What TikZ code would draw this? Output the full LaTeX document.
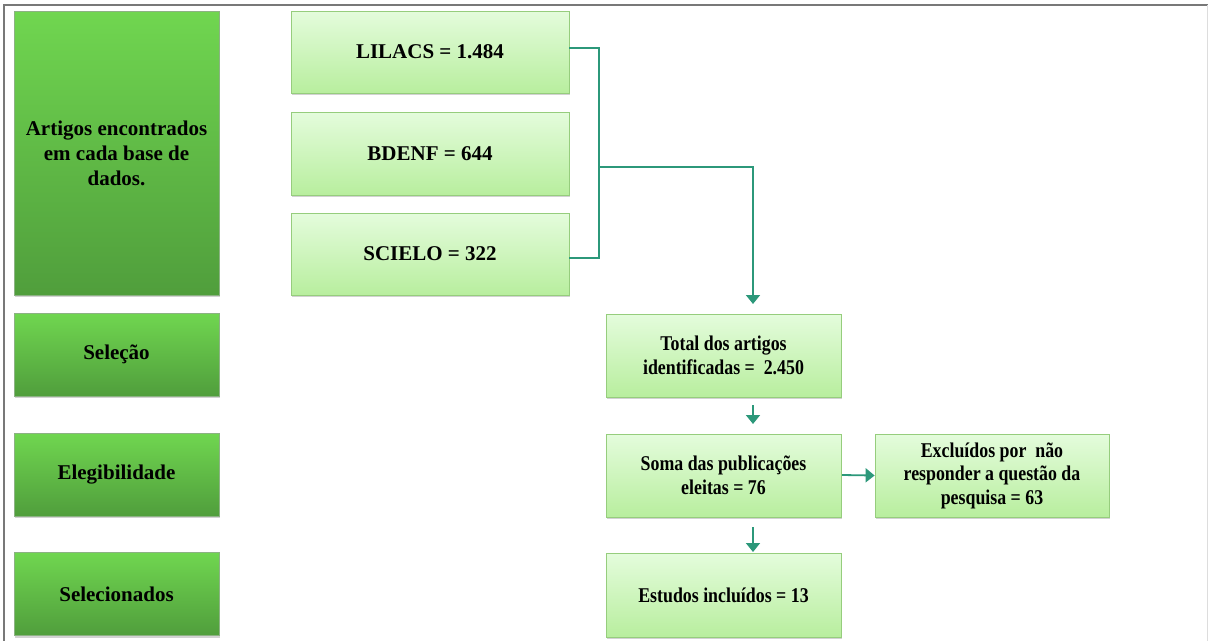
\documentclass[tikz,border=0pt]{standalone}
\usepackage{fontspec}
\setmainfont{Liberation Serif}
\newfontfamily\condfont[FakeStretch=0.85]{Liberation Serif}
\usetikzlibrary{arrows.meta,shadows}
\definecolor{darkA}{RGB}{112,214,80}
\definecolor{darkB}{RGB}{80,158,60}
\definecolor{lightA}{RGB}{228,252,220}
\definecolor{lightB}{RGB}{184,238,158}
\definecolor{lightEdge}{RGB}{150,205,125}
\definecolor{conn}{RGB}{44,152,122}
\definecolor{frameC}{RGB}{120,120,120}
\tikzset{
  stagebox/.style={rectangle, draw=darkB!80!black!60, line width=0.4pt, top color=darkA, bottom color=darkB,
    minimum width=205pt, inner sep=2pt, align=center, font=\rmfamily\bfseries\fontsize{21}{25}\selectfont,
    drop shadow={shadow xshift=1pt, shadow yshift=-2pt, opacity=.35}},
  infobox/.style={rectangle, draw=lightEdge, line width=0.8pt, top color=lightA, bottom color=lightB,
    inner sep=2pt, align=center, font=\rmfamily\bfseries\fontsize{21}{23.5}\selectfont,
    drop shadow={shadow xshift=1pt, shadow yshift=-2pt, opacity=.35}},
  condbox/.style={infobox, font=\condfont\bfseries\fontsize{21}{23.5}\selectfont},
  link/.style={draw=conn, line width=1.8pt},
  linkarr/.style={link, -{Triangle[width=14pt,length=9pt]}},
}
\begin{document}
\begin{tikzpicture}[x=1pt,y=-1pt]
\useasboundingbox (0,0) rectangle (1210,641);
\fill[white] (0,0) rectangle (1210,641);
% frame
\draw[frameC, line width=2pt] (3,5) -- (1208,5);
\draw[frameC, line width=2pt] (4,5) -- (4,641);
\draw[frameC!25, line width=1pt] (1207,5) -- (1207,641);

% stage column
\node[stagebox, minimum height=284pt] (s1) at (116.5,153) {Artigos encontrados\\em cada base de\\dados.};
\node[stagebox, minimum height=83pt] (s2) at (116.5,354.5) {Seleção};
\node[stagebox, minimum height=83pt] (s3) at (116.5,474.5) {Elegibilidade};
\node[stagebox, minimum height=83pt] (s4) at (116.5,594) {Selecionados};

% databases
\node[infobox, minimum width=278pt, minimum height=82pt] (lil) at (430,52) {LILACS = 1.484};
\node[infobox, minimum width=278pt, minimum height=83pt] (bde) at (430,153.5) {BDENF = 644};
\node[infobox, minimum width=278pt, minimum height=82pt] (sci) at (430,254) {SCIELO = 322};

% flow
\node[condbox, minimum width=235pt, minimum height=83pt] (tot) at (723.5,355.5) {Total dos artigos\\identificadas =\ \ 2.450};
\node[condbox, minimum width=235pt, minimum height=83pt] (soma) at (723.5,475.5) {Soma das publicações\\eleitas = 76};
\node[condbox, minimum width=235pt, minimum height=84pt] (est) at (723.5,595) {Estudos incluídos = 13};
\node[condbox, minimum width=234pt, minimum height=83pt] (exc) at (992,475.5) {Excluídos por\ \ não\\responder a questão da\\pesquisa = 63};

% connectors
\coordinate (totin) at (753,304);
\draw[link] (lil.east |- 0,48) -- (599,48) -- (599,258) -- (sci.east |- 0,258);
\draw[linkarr] (599,167) -- (753,167) -- (totin);
\draw[linkarr] (753,405) -- (753,424);
\draw[linkarr] (753,527) -- (753,552);
\draw[linkarr] (842,475) -- (exc.west);
\end{tikzpicture}
\end{document}
